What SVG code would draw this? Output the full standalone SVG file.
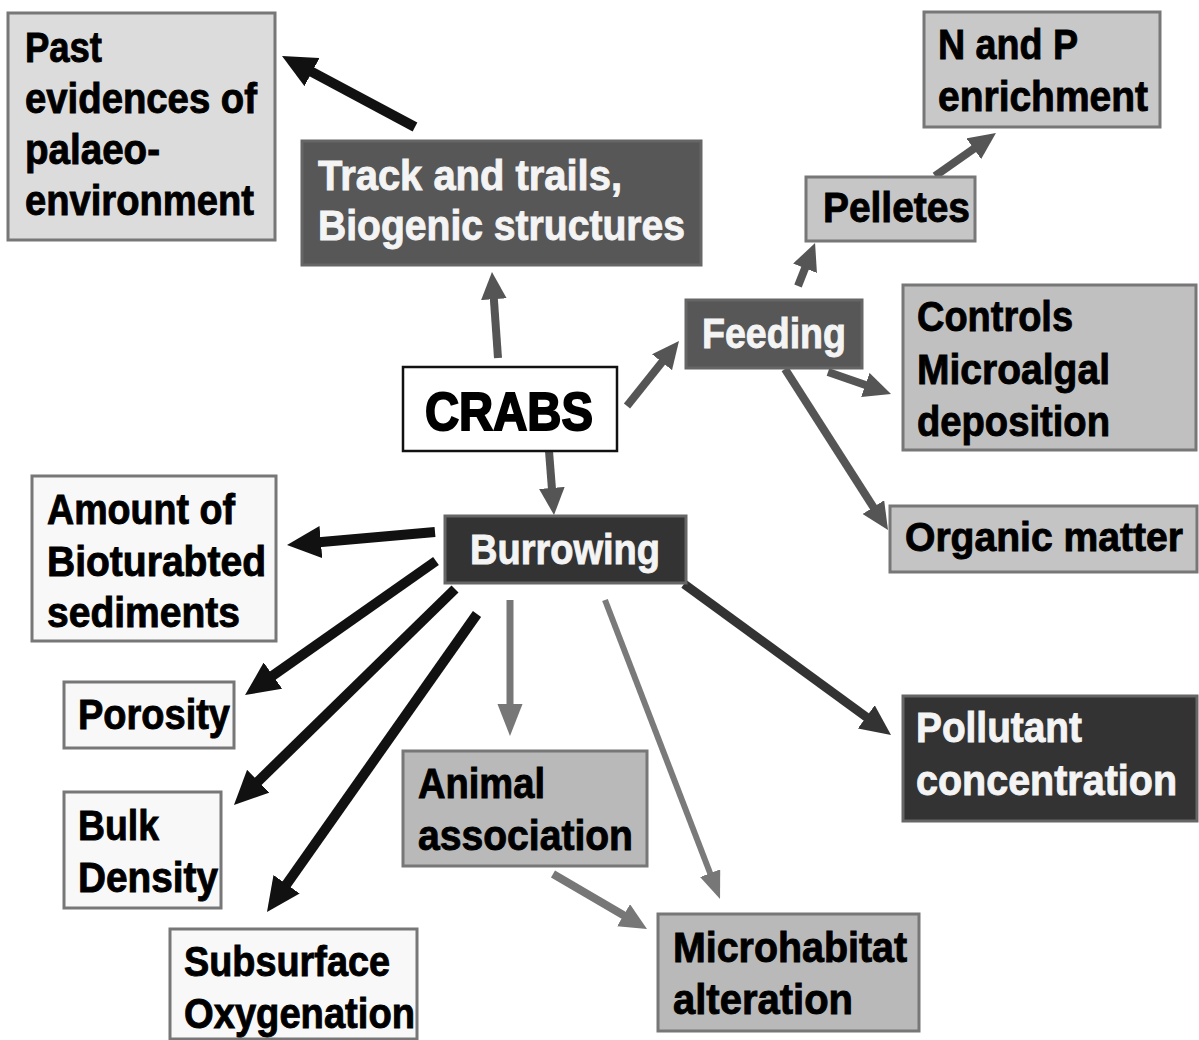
<svg xmlns="http://www.w3.org/2000/svg" width="1199" height="1040" viewBox="0 0 1199 1040">
<style>
.box{stroke:#777;stroke-width:3}
.lt{fill:#f8f8f8}
.mg{fill:#b9b9b9}
.dk{fill:#575757;stroke:#666}
.bk{fill:#333;stroke:#666}
text{font-family:"Liberation Sans",Arial,sans-serif;font-weight:bold;font-size:42px;fill:#000;stroke:#000;stroke-width:0.9px}
text.w{fill:#f4f4f4;stroke:#f4f4f4}
.c{fill:none;stroke-linecap:butt}
</style>
<defs>
<marker id="hk" viewBox="0 0 3.4 3.2" refX="0.5" refY="1.6" markerWidth="3.4" markerHeight="3.2" markerUnits="strokeWidth" orient="auto"><path d="M0,0 L3.4,1.6 L0,3.2 z" fill="#111"/></marker>
<marker id="hg" viewBox="0 0 3.4 3.2" refX="0.5" refY="1.6" markerWidth="3.4" markerHeight="3.2" markerUnits="strokeWidth" orient="auto"><path d="M0,0 L3.4,1.6 L0,3.2 z" fill="#555"/></marker>
<marker id="hd" viewBox="0 0 3.4 3.2" refX="0.5" refY="1.6" markerWidth="3.4" markerHeight="3.2" markerUnits="strokeWidth" orient="auto"><path d="M0,0 L3.4,1.6 L0,3.2 z" fill="#333"/></marker>
<marker id="hl" viewBox="0 0 3.4 3.2" refX="0.5" refY="1.6" markerWidth="3.4" markerHeight="3.2" markerUnits="strokeWidth" orient="auto"><path d="M0,0 L3.4,1.6 L0,3.2 z" fill="#777"/></marker>
<marker id="hll" viewBox="0 0 4.6 3.6" refX="0.5" refY="1.8" markerWidth="4.6" markerHeight="3.6" markerUnits="strokeWidth" orient="auto"><path d="M0,0 L4.6,1.8 L0,3.6 z" fill="#777"/></marker>
</defs>
<rect width="1199" height="1040" fill="#fff"/>

<g id="connectors" class="c">
<line x1="415" y1="127" x2="307.6" y2="69.7" stroke="#111" stroke-width="10" marker-end="url(#hk)"/>
<line x1="498" y1="358" x2="493.6" y2="295.2" stroke="#555" stroke-width="8" marker-end="url(#hg)"/>
<line x1="627" y1="406" x2="664.5" y2="359.1" stroke="#555" stroke-width="8" marker-end="url(#hg)"/>
<line x1="549" y1="451" x2="552.2" y2="491.9" stroke="#555" stroke-width="8" marker-end="url(#hg)"/>
<line x1="798" y1="286" x2="806.5" y2="264.6" stroke="#555" stroke-width="8" marker-end="url(#hg)"/>
<line x1="935" y1="176" x2="977" y2="146.4" stroke="#555" stroke-width="8" marker-end="url(#hg)"/>
<line x1="828" y1="372" x2="869.1" y2="386.3" stroke="#555" stroke-width="8" marker-end="url(#hg)"/>
<line x1="785" y1="369" x2="875.5" y2="510.5" stroke="#555" stroke-width="8" marker-end="url(#hg)"/>
<line x1="435" y1="532" x2="315.9" y2="542.5" stroke="#111" stroke-width="10" marker-end="url(#hk)"/>
<line x1="436" y1="561" x2="268.8" y2="678.4" stroke="#111" stroke-width="10" marker-end="url(#hk)"/>
<line x1="455" y1="589" x2="254.7" y2="784.7" stroke="#111" stroke-width="10" marker-end="url(#hk)"/>
<line x1="477" y1="614" x2="283.7" y2="888.3" stroke="#111" stroke-width="10" marker-end="url(#hk)"/>
<line x1="510" y1="600" x2="510" y2="707.3" stroke="#777" stroke-width="7" marker-end="url(#hll)"/>
<line x1="605" y1="600" x2="711.2" y2="876" stroke="#7a7a7a" stroke-width="6" marker-end="url(#hll)"/>
<line x1="553" y1="874" x2="627" y2="917.3" stroke="#777" stroke-width="8" marker-end="url(#hl)"/>
<line x1="684" y1="584" x2="869.9" y2="719.6" stroke="#333" stroke-width="9" marker-end="url(#hd)"/>
</g>

<g id="past">
<rect class="box" x="8" y="13" width="267" height="227" fill="#dcdcdc"/>
<text x="25" y="62" textLength="77" lengthAdjust="spacingAndGlyphs">Past</text>
<text x="25" y="113" textLength="232" lengthAdjust="spacingAndGlyphs">evidences of</text>
<text x="25" y="164" textLength="135" lengthAdjust="spacingAndGlyphs">palaeo-</text>
<text x="25" y="215" textLength="229" lengthAdjust="spacingAndGlyphs">environment</text>
</g>

<g id="track">
<rect class="box dk" x="302" y="141" width="399" height="124"/>
<text class="w" x="318" y="190" textLength="304" lengthAdjust="spacingAndGlyphs">Track and trails,</text>
<text class="w" x="318" y="240" textLength="367" lengthAdjust="spacingAndGlyphs">Biogenic structures</text>
</g>

<g id="np">
<rect class="box" x="924" y="12" width="236" height="115" fill="#c8c8c8"/>
<text x="938" y="59" textLength="140" lengthAdjust="spacingAndGlyphs">N and P</text>
<text x="938" y="111" textLength="210" lengthAdjust="spacingAndGlyphs">enrichment</text>
</g>

<g id="pelletes">
<rect class="box" x="806" y="177" width="169" height="64" fill="#c6c6c6"/>
<text x="823" y="222" textLength="147" lengthAdjust="spacingAndGlyphs">Pelletes</text>
</g>

<g id="feeding">
<rect class="box dk" x="686" y="300" width="176" height="68"/>
<text class="w" x="702" y="348" textLength="144" lengthAdjust="spacingAndGlyphs">Feeding</text>
</g>

<g id="controls">
<rect class="box" x="903" y="285" width="293" height="165" fill="#c0c0c0"/>
<text x="917" y="331" textLength="156" lengthAdjust="spacingAndGlyphs">Controls</text>
<text x="917" y="384" textLength="193" lengthAdjust="spacingAndGlyphs">Microalgal</text>
<text x="917" y="436" textLength="193" lengthAdjust="spacingAndGlyphs">deposition</text>
</g>

<g id="crabs">
<rect x="403" y="367" width="214" height="84" fill="#fff" stroke="#111" stroke-width="2.5"/>
<text x="425" y="430" textLength="168" lengthAdjust="spacingAndGlyphs" style="font-size:54px;stroke-width:2px">CRABS</text>
</g>

<g id="organic">
<rect class="box" x="890" y="506" width="307" height="66" fill="#c4c4c4"/>
<text x="905" y="551" textLength="278" lengthAdjust="spacingAndGlyphs" style="font-size:40px">Organic matter</text>
</g>

<g id="burrowing">
<rect class="box bk" x="445" y="516" width="241" height="67"/>
<text class="w" x="470" y="564" textLength="190" lengthAdjust="spacingAndGlyphs">Burrowing</text>
</g>

<g id="amount">
<rect class="box lt" x="32" y="476" width="244" height="165"/>
<text x="47" y="524" textLength="188" lengthAdjust="spacingAndGlyphs">Amount of</text>
<text x="47" y="576" textLength="219" lengthAdjust="spacingAndGlyphs">Bioturabted</text>
<text x="47" y="627" textLength="193" lengthAdjust="spacingAndGlyphs">sediments</text>
</g>

<g id="porosity">
<rect class="box lt" x="64" y="682" width="170" height="66"/>
<text x="78" y="729" textLength="152" lengthAdjust="spacingAndGlyphs">Porosity</text>
</g>

<g id="bulk">
<rect class="box lt" x="64" y="792" width="157" height="116"/>
<text x="78" y="840" textLength="81" lengthAdjust="spacingAndGlyphs">Bulk</text>
<text x="78" y="892" textLength="140" lengthAdjust="spacingAndGlyphs">Density</text>
</g>

<g id="subsurface">
<rect class="box lt" x="170" y="929" width="247" height="110"/>
<text x="184" y="976" textLength="206" lengthAdjust="spacingAndGlyphs">Subsurface</text>
<text x="184" y="1028" textLength="231" lengthAdjust="spacingAndGlyphs">Oxygenation</text>
</g>

<g id="animal">
<rect class="box mg" x="403" y="751" width="244" height="115"/>
<text x="418" y="798" textLength="127" lengthAdjust="spacingAndGlyphs">Animal</text>
<text x="418" y="850" textLength="215" lengthAdjust="spacingAndGlyphs">association</text>
</g>

<g id="microhabitat">
<rect class="box mg" x="658" y="914" width="261" height="117"/>
<text x="673" y="962" textLength="234" lengthAdjust="spacingAndGlyphs">Microhabitat</text>
<text x="673" y="1014" textLength="180" lengthAdjust="spacingAndGlyphs">alteration</text>
</g>

<g id="pollutant">
<rect class="box bk" x="903" y="696" width="294" height="125"/>
<text class="w" x="916" y="742" textLength="166" lengthAdjust="spacingAndGlyphs">Pollutant</text>
<text class="w" x="916" y="795" textLength="261" lengthAdjust="spacingAndGlyphs">concentration</text>
</g>
</svg>
